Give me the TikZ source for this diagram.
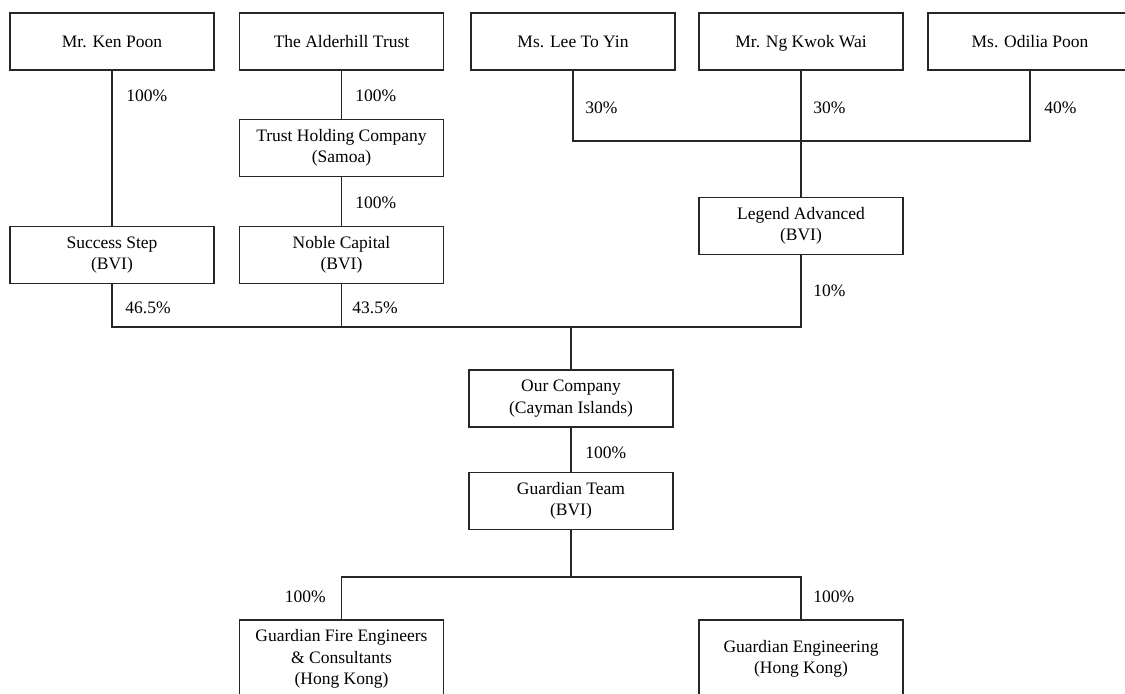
\documentclass[tikz,border=0pt]{standalone}
\usepackage{fontspec}
\setmainfont{Liberation Serif}
\usetikzlibrary{positioning, calc}

\begin{document}
\begin{tikzpicture}[
    x=0.5pt, y=-0.5pt,
    block/.style={rectangle, draw=black!85, line width=0.55pt, minimum width=102pt, minimum height=28.5pt, inner sep=0pt, align=center, font=\fontsize{8.75}{10.6}\selectfont},
    person/.style={block, text height=1.6ex, text depth=0.4ex},
    link/.style={draw=black!85, line width=0.55pt},
    share/.style={anchor=west, inner sep=0pt, font=\fontsize{8.75}{10.6}\selectfont}
]
    \useasboundingbox (0,0) rectangle (1125,693);

    % Shareholders
    \node[person] (kenpoon) at (112,41.5) {Mr. Ken Poon};
    \node[person] (alderhill) at (341.5,41.5) {The Alderhill Trust};
    \node[person] (leetoyin) at (573,41.5) {Ms. Lee To Yin};
    \node[person] (ngkwokwai) at (801,41.5) {Mr. Ng Kwok Wai};
    \node[person] (odilia) at (1030,41.5) {Ms. Odilia Poon};

    % Holding companies
    \node[block] (trustco) at (341.5,148) {Trust Holding Company\\(Samoa)};
    \node[block] (success) at (112,255) {Success Step\\(BVI)};
    \node[block] (noble) at (341.5,255) {Noble Capital\\(BVI)};
    \node[block] (legend) at (801,226) {Legend Advanced\\(BVI)};

    % Group
    \node[block] (ourco) at (571,398.5) {Our Company\\(Cayman Islands)};
    \node[block] (team) at (571,501) {Guardian Team\\(BVI)};
    \node[block, minimum height=39pt] (gfec) at (341.5,659) {Guardian Fire Engineers\\\& Consultants\\(Hong Kong)};
    \node[block, minimum height=39pt] (geng) at (801,659) {Guardian Engineering\\(Hong Kong)};

    % Junctions
    \coordinate (topjoin) at (801,141);
    \coordinate (midjoin) at (571,327);
    \coordinate (lowjoin) at (571,577);

    % Ownership lines
    \draw[link] (kenpoon) -- (success);
    \draw[link] (alderhill) -- (trustco);
    \draw[link] (trustco) -- (noble);
    \draw[link] (leetoyin.south) |- (topjoin) -| (odilia.south);
    \draw[link] (ngkwokwai) -- (legend);
    \draw[link] (success.south) |- (midjoin) -| (legend.south);
    \draw[link] (noble.south) -- (noble.south |- midjoin);
    \draw[link] (midjoin) -- (ourco);
    \draw[link] (ourco) -- (team);
    \draw[link] (team) -- (lowjoin);
    \draw[link] (gfec.north) |- (lowjoin) -| (geng.north);

    % Percentages
    \node[share] (s1) at (126,96) {100\%};
    \node[share] (s2) at (355,96) {100\%};
    \node[share] (s3) at (585,108) {30\%};
    \node[share] (s4) at (813,108) {30\%};
    \node[share] (s5) at (1044,108) {40\%};
    \node[share] (s6) at (355,203) {100\%};
    \node[share] (s7) at (125,308) {46.5\%};
    \node[share] (s8) at (352,308) {43.5\%};
    \node[share] (s9) at (813,291) {10\%};
    \node[share] (s10) at (585,453) {100\%};
    \node[share, anchor=east] (s11) at (326,597) {100\%};
    \node[share] (s12) at (813,597) {100\%};
\end{tikzpicture}
\end{document}
